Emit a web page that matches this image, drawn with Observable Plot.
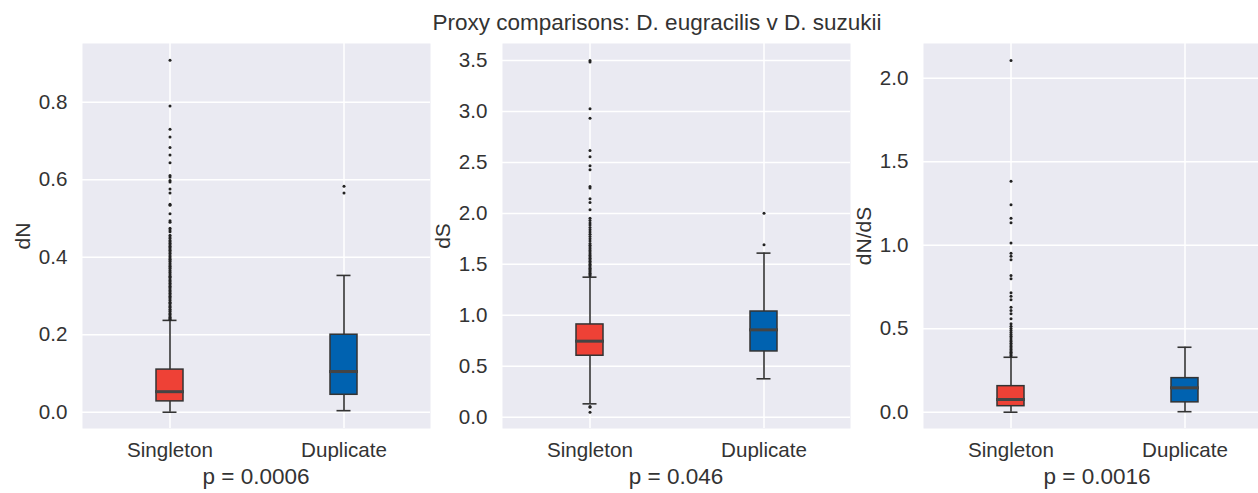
<!DOCTYPE html>
<html>
<head>
<meta charset="utf-8">
<script src="https://cdn.jsdelivr.net/npm/d3@7"></script>
<script src="https://cdn.jsdelivr.net/npm/@observablehq/plot@0.6"></script>
<style>
  html, body { margin: 0; padding: 0; background: #ffffff; overflow: hidden; }
  #chart { position: relative; width: 1258px; height: 493px; overflow: hidden;
           font-family: "Liberation Sans", Arial, sans-serif; color: #333333; }
  .panel { position: absolute; top: 38px; }
  .title { position: absolute; top: 12px; left: 657px; transform: translateX(-50%);
           font-size: 22.5px; line-height: 1; white-space: nowrap; }
  .xlab { position: absolute; top: 466px; transform: translateX(-50%);
          font-size: 22.5px; line-height: 1; white-space: nowrap; }
  .ylab { position: absolute; top: 235.5px; font-size: 21px; line-height: 1; white-space: nowrap;
          transform: translate(-50%, -50%) rotate(-90deg); }
</style>
</head>
<body>
<div id="chart"></div>
<script>
// ---------- data ----------
const categories = ["Singleton", "Duplicate"];
const metricLabels = ["dN", "dS", "dN/dS"];
const pLabels = ["p = 0.0006", "p = 0.046", "p = 0.0016"];
const titleText = "Proxy comparisons: D. eugracilis v D. suzukii";

const dN_ticks = [0, 0.2, 0.4, 0.6, 0.8];
const dS_ticks = [0, 0.5, 1.0, 1.5, 2.0, 2.5, 3.0, 3.5];
const dNdS_ticks = [0, 0.5, 1.0, 1.5, 2.0];

// box statistics [Singleton, Duplicate]
const dN_whiskerLow  = [0.000, 0.004];
const dN_q1          = [0.028, 0.045];
const dN_median      = [0.053, 0.105];
const dN_q3          = [0.110, 0.200];
const dN_whiskerHigh = [0.237, 0.353];

const dS_whiskerLow  = [0.131, 0.377];
const dS_q1          = [0.603, 0.645];
const dS_median      = [0.746, 0.857];
const dS_q3          = [0.910, 1.037];
const dS_whiskerHigh = [1.374, 1.610];

const dNdS_whiskerLow  = [0.000, 0.003];
const dNdS_q1          = [0.036, 0.059];
const dNdS_median      = [0.076, 0.146];
const dNdS_q3          = [0.156, 0.204];
const dNdS_whiskerHigh = [0.329, 0.389];

// outliers
const dN_singletonOutliers = [0.908, 0.790, 0.730, 0.710, 0.683, 0.664, 0.644, 0.611, 0.607, 0.598,
  0.594, 0.576, 0.566, 0.537, 0.534, 0.512, 0.494, 0.490, 0.475, 0.470, 0.466, 0.457, 0.452, 0.448,
  0.443, 0.440, 0.436, 0.432, 0.428, 0.425, 0.421, 0.418, 0.414, 0.410, 0.406, 0.402, 0.398, 0.395,
  0.391, 0.388, 0.384, 0.380, 0.377, 0.373, 0.370, 0.366, 0.362, 0.359, 0.355, 0.351, 0.348, 0.344,
  0.340, 0.337, 0.333, 0.329, 0.325, 0.322, 0.318, 0.314, 0.311, 0.307, 0.303, 0.299, 0.296, 0.292,
  0.288, 0.284, 0.281, 0.277, 0.273, 0.270, 0.266, 0.262, 0.259, 0.255, 0.252, 0.248, 0.245, 0.242, 0.240];
const dN_duplicateOutliers = [0.583, 0.566];

const dS_singletonOutliers = [3.500, 3.485, 3.026, 2.934, 2.617, 2.555, 2.467, 2.428, 2.264, 2.250,
  2.143, 2.107, 2.035, 1.953, 1.930, 1.905, 1.885, 1.862, 1.840, 1.818, 1.795, 1.772, 1.750, 1.728,
  1.705, 1.688, 1.670, 1.652, 1.635, 1.620, 1.605, 1.590, 1.575, 1.560, 1.545, 1.530, 1.515, 1.500,
  1.488, 1.475, 1.462, 1.450, 1.438, 1.425, 1.412, 1.400, 1.388, 0.105, 0.098, 0.049];
const dS_duplicateOutliers = [2.002, 1.692];

const dNdS_singletonOutliers = [2.106, 1.383, 1.242, 1.162, 1.134, 1.014, 0.952, 0.934, 0.913, 0.819,
  0.799, 0.715, 0.695, 0.673, 0.629, 0.609, 0.589, 0.559, 0.529, 0.515, 0.502, 0.490, 0.478, 0.466,
  0.455, 0.444, 0.433, 0.423, 0.413, 0.403, 0.394, 0.385, 0.376, 0.367, 0.359, 0.351, 0.343, 0.336];
const dNdS_duplicateOutliers = [];

// ---------- styling / layout config ----------
const boxColors = {Singleton: "#ee4136", Duplicate: "#0062b0"};
const panelLefts = [0, 430, 850];
const panelMarginLeft = [82, 72, 73];
const yDomains = [[-0.042, 0.9515], [-0.111, 3.667], [-0.0976, 2.208]];
const yLabelX = [22, 442, 862.5];
const pLabelX = [256, 676, 1097];
const frameW = 348;

const panelsData = [
  {ticks: dN_ticks, lo: dN_whiskerLow, q1: dN_q1, med: dN_median, q3: dN_q3, hi: dN_whiskerHigh,
   outS: dN_singletonOutliers, outD: dN_duplicateOutliers},
  {ticks: dS_ticks, lo: dS_whiskerLow, q1: dS_q1, med: dS_median, q3: dS_q3, hi: dS_whiskerHigh,
   outS: dS_singletonOutliers, outD: dS_duplicateOutliers},
  {ticks: dNdS_ticks, lo: dNdS_whiskerLow, q1: dNdS_q1, med: dNdS_median, q3: dNdS_q3, hi: dNdS_whiskerHigh,
   outS: dNdS_singletonOutliers, outD: dNdS_duplicateOutliers}
];

const chart = document.getElementById("chart");

const title = document.createElement("div");
title.className = "title";
title.textContent = titleText;
chart.appendChild(title);

panelsData.forEach((p, i) => {
  const boxes = categories.map((c, k) => ({cat: c, lo: p.lo[k], q1: p.q1[k], med: p.med[k], q3: p.q3[k], hi: p.hi[k]}));
  const outliers = [
    ...p.outS.map(v => ({cat: "Singleton", v})),
    ...p.outD.map(v => ({cat: "Duplicate", v}))
  ];
  const svg = Plot.plot({
    width: panelMarginLeft[i] + frameW,
    height: 430,
    marginLeft: panelMarginLeft[i],
    marginRight: 0,
    marginTop: 5,
    marginBottom: 40,
    style: {fontFamily: "'Liberation Sans', Arial, sans-serif", fontSize: "20.6px", color: "#333333", background: "transparent", overflow: "visible"},
    x: {type: "band", domain: categories, paddingInner: 0.845, paddingOuter: 0.4224, align: 0.5},
    y: {domain: yDomains[i]},
    color: {type: "identity"},
    marks: [
      Plot.frame({fill: "#eaeaf2", stroke: null}),
      Plot.gridY(p.ticks, {stroke: "white", strokeOpacity: 1, strokeWidth: 1.5}),
      Plot.gridX(categories, {stroke: "white", strokeOpacity: 1, strokeWidth: 1.5}),
      Plot.axisY(p.ticks, {tickSize: 0, tickPadding: 15, tickFormat: d3.format(".1f"), label: null}),
      Plot.axisX(categories, {tickSize: 0, tickPadding: 14, label: null}),
      Plot.ruleX(boxes, {x: "cat", y1: "lo", y2: "hi", stroke: "#333333", strokeWidth: 1.6}),
      Plot.tickY(boxes, {x: "cat", y: "lo", insetLeft: 6.5, insetRight: 6.5, stroke: "#333333", strokeWidth: 1.6}),
      Plot.tickY(boxes, {x: "cat", y: "hi", insetLeft: 6.5, insetRight: 6.5, stroke: "#333333", strokeWidth: 1.6}),
      Plot.rectY(boxes, {x: "cat", y1: "q1", y2: "q3", fill: d => boxColors[d.cat], stroke: "#333333", strokeWidth: 1.5}),
      Plot.tickY(boxes, {x: "cat", y: "med", stroke: "#444444", strokeWidth: 3, insetLeft: -1, insetRight: -1}),
      Plot.dot(outliers, {x: "cat", y: "v", r: 1.5, fill: "#222222", stroke: null})
    ]
  });
  svg.classList.add("panel");
  svg.style.left = panelLefts[i] + "px";
  chart.appendChild(svg);

  const yl = document.createElement("div");
  yl.className = "ylab";
  yl.style.left = yLabelX[i] + "px";
  yl.textContent = metricLabels[i];
  chart.appendChild(yl);

  const xl = document.createElement("div");
  xl.className = "xlab";
  xl.style.left = pLabelX[i] + "px";
  xl.textContent = pLabels[i];
  chart.appendChild(xl);
});
</script>
</body>
</html>
